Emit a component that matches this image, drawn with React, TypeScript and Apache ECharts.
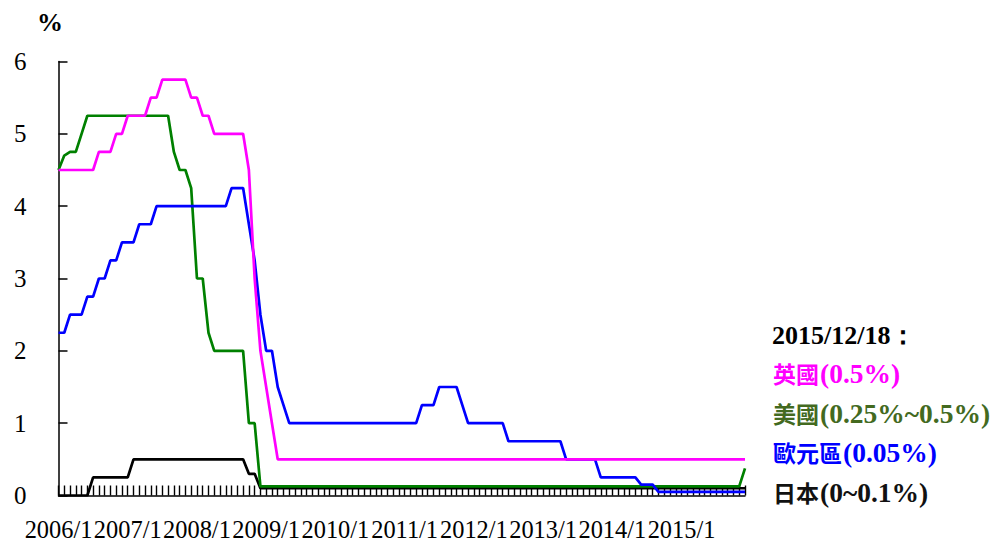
import React, { useEffect, useRef } from "react";
import * as echarts from "echarts";

const years = [2006, 2007, 2008, 2009, 2010, 2011, 2012, 2013, 2014, 2015];
const months: string[] = [];
years.forEach((y) => {
  for (let m = 1; m <= 12; m++) months.push(`${y}/${m}`);
});

const yTicks = [0, 1, 2, 3, 4, 5, 6];

// UK Bank Rate (%) monthly 2006/1 - 2015/12
const ukRate = [
  4.5, 4.5, 4.5, 4.5, 4.5, 4.5, 4.5, 4.75, 4.75, 4.75, 5, 5,
  5.25, 5.25, 5.25, 5.25, 5.5, 5.5, 5.75, 5.75, 5.75, 5.75, 5.75, 5.5,
  5.5, 5.25, 5.25, 5, 5, 5, 5, 5, 5, 4.5, 3, 2,
  1.5, 1, 0.5, 0.5, 0.5, 0.5, 0.5, 0.5, 0.5, 0.5, 0.5, 0.5,
  0.5, 0.5, 0.5, 0.5, 0.5, 0.5, 0.5, 0.5, 0.5, 0.5, 0.5, 0.5,
  0.5, 0.5, 0.5, 0.5, 0.5, 0.5, 0.5, 0.5, 0.5, 0.5, 0.5, 0.5,
  0.5, 0.5, 0.5, 0.5, 0.5, 0.5, 0.5, 0.5, 0.5, 0.5, 0.5, 0.5,
  0.5, 0.5, 0.5, 0.5, 0.5, 0.5, 0.5, 0.5, 0.5, 0.5, 0.5, 0.5,
  0.5, 0.5, 0.5, 0.5, 0.5, 0.5, 0.5, 0.5, 0.5, 0.5, 0.5, 0.5,
  0.5, 0.5, 0.5, 0.5, 0.5, 0.5, 0.5, 0.5, 0.5, 0.5, 0.5, 0.5,
];

// US Fed funds target (%)
const usRate = [
  4.5, 4.7, 4.75, 4.75, 5, 5.25, 5.25, 5.25, 5.25, 5.25, 5.25, 5.25,
  5.25, 5.25, 5.25, 5.25, 5.25, 5.25, 5.25, 5.25, 4.75, 4.5, 4.5, 4.25,
  3, 3, 2.25, 2, 2, 2, 2, 2, 2, 1, 1, 0.125,
  0.125, 0.125, 0.125, 0.125, 0.125, 0.125, 0.125, 0.125, 0.125, 0.125, 0.125, 0.125,
  0.125, 0.125, 0.125, 0.125, 0.125, 0.125, 0.125, 0.125, 0.125, 0.125, 0.125, 0.125,
  0.125, 0.125, 0.125, 0.125, 0.125, 0.125, 0.125, 0.125, 0.125, 0.125, 0.125, 0.125,
  0.125, 0.125, 0.125, 0.125, 0.125, 0.125, 0.125, 0.125, 0.125, 0.125, 0.125, 0.125,
  0.125, 0.125, 0.125, 0.125, 0.125, 0.125, 0.125, 0.125, 0.125, 0.125, 0.125, 0.125,
  0.125, 0.125, 0.125, 0.125, 0.125, 0.125, 0.125, 0.125, 0.125, 0.125, 0.125, 0.125,
  0.125, 0.125, 0.125, 0.125, 0.125, 0.125, 0.125, 0.125, 0.125, 0.125, 0.125, 0.375,
];

// Euro area refi rate (%)
const euroRate = [
  2.25, 2.25, 2.5, 2.5, 2.5, 2.75, 2.75, 3, 3, 3.25, 3.25, 3.5,
  3.5, 3.5, 3.75, 3.75, 3.75, 4, 4, 4, 4, 4, 4, 4,
  4, 4, 4, 4, 4, 4, 4.25, 4.25, 4.25, 3.75, 3.25, 2.5,
  2, 2, 1.5, 1.25, 1, 1, 1, 1, 1, 1, 1, 1,
  1, 1, 1, 1, 1, 1, 1, 1, 1, 1, 1, 1,
  1, 1, 1, 1.25, 1.25, 1.25, 1.5, 1.5, 1.5, 1.5, 1.25, 1,
  1, 1, 1, 1, 1, 1, 0.75, 0.75, 0.75, 0.75, 0.75, 0.75,
  0.75, 0.75, 0.75, 0.75, 0.5, 0.5, 0.5, 0.5, 0.5, 0.5, 0.25, 0.25,
  0.25, 0.25, 0.25, 0.25, 0.25, 0.15, 0.15, 0.15, 0.05, 0.05, 0.05, 0.05,
  0.05, 0.05, 0.05, 0.05, 0.05, 0.05, 0.05, 0.05, 0.05, 0.05, 0.05, 0.05,
];

// Japan policy rate (%)
const japanRate = [
  0, 0, 0, 0, 0, 0, 0.25, 0.25, 0.25, 0.25, 0.25, 0.25,
  0.25, 0.5, 0.5, 0.5, 0.5, 0.5, 0.5, 0.5, 0.5, 0.5, 0.5, 0.5,
  0.5, 0.5, 0.5, 0.5, 0.5, 0.5, 0.5, 0.5, 0.5, 0.3, 0.3, 0.1,
  0.1, 0.1, 0.1, 0.1, 0.1, 0.1, 0.1, 0.1, 0.1, 0.1, 0.1, 0.1,
  0.1, 0.1, 0.1, 0.1, 0.1, 0.1, 0.1, 0.1, 0.1, 0.1, 0.1, 0.1,
  0.1, 0.1, 0.1, 0.1, 0.1, 0.1, 0.1, 0.1, 0.1, 0.1, 0.1, 0.1,
  0.1, 0.1, 0.1, 0.1, 0.1, 0.1, 0.1, 0.1, 0.1, 0.1, 0.1, 0.1,
  0.1, 0.1, 0.1, 0.1, 0.1, 0.1, 0.1, 0.1, 0.1, 0.1, 0.1, 0.1,
  0.1, 0.1, 0.1, 0.1, 0.1, 0.1, 0.1, 0.1, 0.1, 0.1, 0.1, 0.1,
  0.1, 0.1, 0.1, 0.1, 0.1, 0.1, 0.1, 0.1, 0.1, 0.1, 0.1, 0.1,
];

const noteTitle = "2015/12/18：";
const noteLines = [
  { name: "英國", value: "(0.5%)", color: "#ff00ff" },
  { name: "美國", value: "(0.25%~0.5%)", color: "#436a1f" },
  { name: "歐元區", value: "(0.05%)", color: "#0000ff" },
  { name: "日本", value: "(0~0.1%)", color: "#111111" },
];

const SERIF = "'Liberation Serif', 'Times New Roman', serif";
const CJK = "'Noto Sans CJK TC', 'Noto Sans CJK SC', sans-serif";

export default function App() {
  const ref = useRef<HTMLDivElement>(null);

  useEffect(() => {
    if (!ref.current) return;
    const chart = echarts.init(ref.current, undefined, { renderer: "svg" });

    const lineSeries = (name: string, data: number[], color: string) => ({
      name,
      type: "line",
      data,
      symbol: "none",
      showSymbol: false,
      lineStyle: { color, width: 2.7 },
      itemStyle: { color },
    });

    const noteY = [373, 413, 452, 492];

    chart.setOption({
      animation: false,
      backgroundColor: "#ffffff",
      grid: {
        left: 58.5,
        right: 250,
        top: 61.5,
        bottom: 46.5,
        containLabel: false,
        outerBoundsMode: "none",
      },
      xAxis: {
        type: "category",
        data: months,
        boundaryGap: false,
        axisLine: { show: true, lineStyle: { color: "#000", width: 1.5 } },
        axisTick: {
          show: true,
          interval: 0,
          inside: true,
          length: 10,
          lineStyle: { color: "#000", width: 1.4 },
        },
        axisLabel: {
          interval: (index: number) => index % 12 === 0,
          showMinLabel: true,
          showMaxLabel: true,
          color: "#000",
          fontFamily: SERIF,
          fontSize: 24.4,
          margin: 22,
          hideOverlap: false,
        },
        splitLine: { show: false },
      },
      yAxis: {
        type: "value",
        min: yTicks[0],
        max: yTicks[yTicks.length - 1],
        interval: 1,
        axisLine: { show: true, lineStyle: { color: "#000", width: 1.5 } },
        axisTick: {
          show: true,
          inside: true,
          length: 9,
          lineStyle: { color: "#000", width: 1.5 },
        },
        axisLabel: {
          color: "#000",
          fontFamily: SERIF,
          fontSize: 25,
          margin: 32,
        },
        splitLine: { show: false },
      },
      series: [
        lineSeries("日本", japanRate, "#000000"),
        lineSeries("美國", usRate, "#008000"),
        lineSeries("歐元區", euroRate, "#0000ff"),
        lineSeries("英國", ukRate, "#ff00ff"),
      ],
      graphic: [
        {
          type: "text",
          x: 50,
          y: 22,
          style: {
            text: "%",
            fontFamily: SERIF,
            fontSize: 26,
            fontWeight: "bold",
            fill: "#000",
            align: "center",
            verticalAlign: "middle",
          },
        },
        {
          type: "text",
          x: 772,
          y: 335,
          style: {
            text: noteTitle,
            fontFamily: SERIF,
            fontSize: 26,
            fontWeight: "bold",
            fill: "#000",
            align: "left",
            verticalAlign: "middle",
          },
        },
        ...noteLines.map((l, i) => ({
          type: "text",
          x: 773,
          y: noteY[i],
          style: {
            text: `{c|${l.name}}{l|${l.value}}`,
            fill: l.color,
            align: "left",
            verticalAlign: "middle",
            rich: {
              c: {
                fontFamily: CJK,
                fontSize: 23,
                fontWeight: "bold",
                fill: l.color,
                color: l.color,
                padding: [0, 1, 0, 0],
              },
              l: {
                fontFamily: SERIF,
                fontSize: 27.5,
                fontWeight: "bold",
                fill: l.color,
                color: l.color,
              },
            },
          },
        })),
      ],
    });

    return () => chart.dispose();
  }, []);

  return (
    <div
      ref={ref}
      style={{ position: "fixed", left: 0, top: 0, width: 995, height: 542 }}
    />
  );
}
